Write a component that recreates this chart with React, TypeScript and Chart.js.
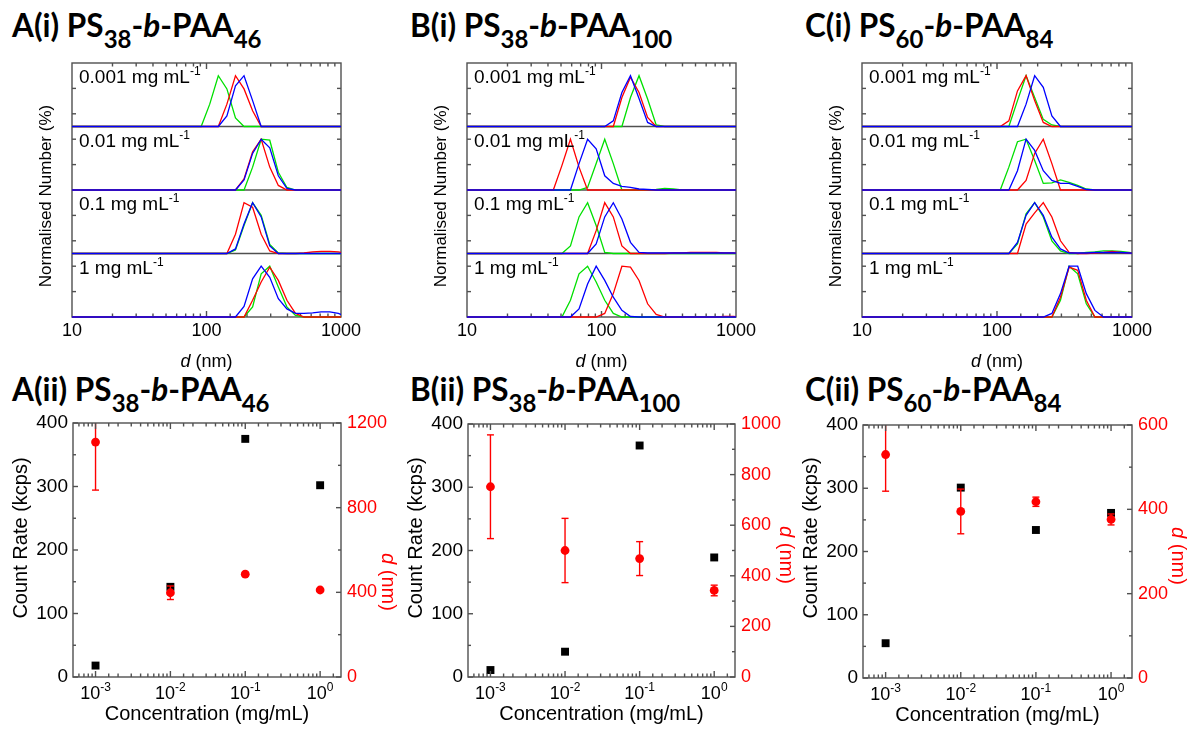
import React, { useEffect, useRef } from 'react';
import { Chart, registerables } from 'chart.js';

Chart.register(...registerables);

const SANS = '"Liberation Sans", Arial, Helvetica, sans-serif';
const TITLE_FONT = 'Lato, "Open Sans", sans-serif';
const FRAME = '#505050';
const RED = '#ff0000';
const GREEN = '#00e000';
const BLUE = '#0000ff';

// Zetasizer size classes (nm) used by the number distributions
const sizeClasses = [8.721, 10.1, 11.7, 13.54, 15.69, 18.17, 21.04, 24.36, 28.21, 32.67, 37.84, 43.82, 50.75, 58.77, 68.06, 78.82, 91.28, 105.7, 122.4, 141.8, 164.2, 190.1, 220.2, 255.0, 295.3, 342.0, 396.1, 458.7, 531.2, 615.1, 712.4, 825.0, 955.4, 1106];

// concentrations of the four stacked distributions, top to bottom (mg mL-1)
const concLabels = ['0.001', '0.01', '0.1', '1'];

type Dist = { from: number; values: number[] };

// Normalised number distributions (% of the largest class); each list starts at size class `from`
// PS38-b-PAA46
const psA_red: Dist[] = [
  { from: 122.4, values: [0, 44, 100, 74, 31, 0] },
  { from: 164.2, values: [0, 22, 75, 100, 45, 9, 0] },
  { from: 141.8, values: [0, 38, 100, 91, 38, 5, 0, 0, 0, 1, 3, 4, 4, 3] },
  { from: 190.1, values: [0, 33, 69, 98, 72, 33, 7, 0] },
];
const psA_green: Dist[] = [
  { from: 91.28, values: [0, 44, 100, 74, 17, 0] },
  { from: 190.1, values: [0, 45, 100, 98, 35, 5, 0] },
  { from: 141.8, values: [0, 7, 55, 100, 75, 18, 1, 0] },
  { from: 190.1, values: [0, 20, 85, 100, 59, 20, 3, 0] },
];
const psA_blue: Dist[] = [
  { from: 122.4, values: [0, 21, 80, 100, 51, 0] },
  { from: 164.2, values: [0, 20, 72, 100, 83, 28, 3, 0] },
  { from: 141.8, values: [0, 9, 58, 100, 72, 15, 0] },
  { from: 164.2, values: [0, 21, 75, 100, 78, 36, 16, 7, 7, 8, 10, 10, 7] },
];

// PS38-b-PAA100
const psB_red: Dist[] = [
  { from: 122.4, values: [0, 57, 97, 67, 18, 0] },
  { from: 43.82, values: [0, 48, 100, 45, 0] },
  { from: 78.82, values: [0, 45, 100, 72, 15, 0, 0, 0, 0, 0, 1, 1, 2, 2, 2, 2, 1, 1] },
  { from: 91.28, values: [0, 7, 46, 100, 98, 72, 26, 5, 0, 0, 0, 0, 0, 0, 0, 1, 1] },
];
const psB_green: Dist[] = [
  { from: 141.8, values: [0, 57, 100, 54, 3, 0] },
  { from: 68.06, values: [0, 5, 52, 100, 52, 0, 0, 0, 0, 1, 3, 2, 0] },
  { from: 50.75, values: [0, 15, 72, 100, 55, 2, 0] },
  { from: 50.75, values: [0, 33, 85, 100, 69, 33, 7, 0] },
];
const psB_blue: Dist[] = [
  { from: 105.7, values: [0, 11, 67, 100, 55, 8, 0] },
  { from: 58.77, values: [0, 52, 100, 81, 28, 13, 7, 5, 2, 1, 0] },
  { from: 78.82, values: [0, 19, 72, 100, 68, 22, 2, 1, 1, 1, 1, 1, 1, 1, 1, 1, 1, 1] },
  { from: 58.77, values: [0, 16, 65, 100, 72, 39, 13, 1, 0] },
];

// PS60-b-PAA84
const psC_red: Dist[] = [
  { from: 105.7, values: [0, 11, 70, 100, 51, 8, 0] },
  { from: 141.8, values: [0, 19, 72, 100, 52, 0] },
  { from: 141.8, values: [0, 58, 80, 100, 72, 25, 2, 0, 0, 1, 2, 4, 2, 1] },
  { from: 255.0, values: [0, 39, 98, 92, 33, 0] },
];
const psC_green: Dist[] = [
  { from: 122.4, values: [0, 51, 100, 57, 14, 3, 0] },
  { from: 105.7, values: [0, 45, 95, 100, 58, 13, 14, 20, 15, 9, 2, 0] },
  { from: 122.4, values: [0, 19, 78, 100, 72, 25, 5, 0, 0, 2, 3, 5, 5, 4, 2] },
  { from: 255.0, values: [0, 33, 100, 85, 26, 0] },
];
const psC_blue: Dist[] = [
  { from: 141.8, values: [0, 44, 100, 77, 21, 0] },
  { from: 122.4, values: [0, 38, 100, 78, 38, 19, 13, 13, 7, 1, 0] },
  { from: 122.4, values: [0, 22, 75, 100, 75, 32, 9, 1, 1, 1, 2, 2, 2, 2, 1] },
  { from: 220.2, values: [0, 7, 46, 100, 100, 46, 13, 0] },
];

const sizeRed = [psA_red, psB_red, psC_red];
const sizeGreen = [psA_green, psB_green, psC_green];
const sizeBlue = [psA_blue, psB_blue, psC_blue];

// y tick marks of each stacked sub-plot (top to bottom)
const subTickMarks = [[25, 75], [50, 100], [25, 75], [50, 100]];

// Count rate and particle size against concentration
const concentration = [0.001, 0.01, 0.1, 1];
const countA = [18, 142, 375, 302];
const countB = [11, 40, 366, 189];
const countC = [55, 301, 234, 261];
const sizeA = [1110, 398, 486, 411];
const sizeB = [752, 500, 468, 342];
const sizeC = [530, 395, 418, 376];
const sizeErrA = [227, 32, 8, 6];
const sizeErrB = [205, 127, 67, 21];
const sizeErrC = [87, 53, 11, 13];
const countRates = [countA, countB, countC];
const sizes = [sizeA, sizeB, sizeC];
const sizeErrs = [sizeErrA, sizeErrB, sizeErrC];
const sizeAxisMax = [1200, 1000, 600];
const sizeAxisStep = [400, 200, 200];
const sizeAxisMinor = [200, 100, 100];

// titles
const panelLetters = ['A', 'B', 'C'];
const psBlock = ['38', '38', '60'];
const paaBlock = ['46', '100', '84'];

// layout of the panels on the page
const titleX = [12, 410, 805];
const topBoxes = [
  { x: 0, w: 395, left: 72, right: 341 },
  { x: 395, w: 395, left: 467, right: 736 },
  { x: 790, w: 399, left: 862, right: 1132 },
];
const TOP_Y = 45;
const TOP_H = 335;
const TOP_PLOT_T = 63;
const TOP_PLOT_B = 317;

const botBoxes = [
  { x: 0, w: 400, left: 73, right: 341, top: 423, bottom: 677, rTitle: 47, rTitleY: 582 },
  { x: 400, w: 395, left: 468, right: 735, top: 424, bottom: 677, rTitle: 51, rTitleY: 555 },
  { x: 795, w: 394, left: 863, right: 1132, top: 425, bottom: 678, rTitle: 46, rTitleY: 556 },
];
const BOT_Y = 396;
const BOT_H = 335;
const SIDE_AXIS_W = 55;

const subIds = ['c0', 'c1', 'c2', 'c3'];

function isDecade(v: number) {
  const e = Math.log10(v);
  return Math.abs(e - Math.round(e)) < 1e-6;
}

function toSeries(d: Dist) {
  const start = sizeClasses.indexOf(d.from);
  return sizeClasses.map((s, i) => ({
    x: s,
    y: i >= start && i < start + d.values.length ? d.values[i - start] : 0,
  }));
}

function seg(ctx: CanvasRenderingContext2D, x1: number, y1: number, x2: number, y2: number) {
  ctx.beginPath();
  ctx.moveTo(x1, y1);
  ctx.lineTo(x2, y2);
  ctx.stroke();
}

type Run = { text: string; font: string; dy?: number };

function drawRuns(ctx: CanvasRenderingContext2D, runs: Run[], x: number, y: number, align: 'left' | 'center') {
  ctx.textAlign = 'left';
  let total = 0;
  const widths = runs.map((r) => {
    ctx.font = r.font;
    const w = ctx.measureText(r.text).width;
    total += w;
    return w;
  });
  let cx = align === 'center' ? x - total / 2 : x;
  runs.forEach((r, k) => {
    ctx.font = r.font;
    ctx.fillText(r.text, cx, y + (r.dy || 0));
    cx += widths[k];
  });
}

function drawLogXTicks(ctx: CanvasRenderingContext2D, chart: any) {
  const a = chart.chartArea;
  const xs = chart.scales.x;
  xs.ticks.forEach((t: any) => {
    const x = xs.getPixelForValue(t.value);
    if (x < a.left + 1 || x > a.right - 1) return;
    const len = isDecade(t.value) ? 6 : 3.5;
    seg(ctx, x, a.bottom, x, a.bottom - len);
    seg(ctx, x, a.top, x, a.top + len);
  });
}

function sizePlugin() {
  return {
    id: 'sizeFrame',
    beforeDatasetsDraw(chart: any) {
      const { ctx, chartArea: a } = chart;
      ctx.save();
      ctx.strokeStyle = FRAME;
      ctx.lineWidth = 1.4;
      subIds.forEach((id) => {
        const s = chart.scales[id];
        if (s.bottom < a.bottom - 1) seg(ctx, a.left, s.bottom, a.right, s.bottom);
        s.ticks.forEach((t: any) => {
          const y = s.getPixelForValue(t.value);
          seg(ctx, a.left, y, a.left + 4, y);
          seg(ctx, a.right - 4, y, a.right, y);
        });
      });
      drawLogXTicks(ctx, chart);
      ctx.strokeRect(a.left, a.top, a.right - a.left, a.bottom - a.top);
      ctx.restore();
    },
    afterDraw(chart: any) {
      const { ctx, chartArea: a } = chart;
      ctx.save();
      ctx.fillStyle = '#000';
      ctx.textBaseline = 'alphabetic';
      subIds.forEach((id, i) => {
        const s = chart.scales[id];
        drawRuns(ctx, [
          { text: concLabels[i] + ' mg mL', font: `19px ${SANS}` },
          { text: '-1', font: `12px ${SANS}`, dy: -8 },
        ], a.left + 7, s.top + 20, 'left');
      });
      // x-axis title
      drawRuns(ctx, [
        { text: 'd', font: `italic 18px ${SANS}` },
        { text: ' (nm)', font: `18px ${SANS}` },
      ], (a.left + a.right) / 2, a.bottom + 50, 'center');
      // y-axis title
      ctx.translate(a.left - 26, (a.top + a.bottom) / 2 + 6);
      ctx.rotate(-Math.PI / 2);
      ctx.textBaseline = 'middle';
      drawRuns(ctx, [{ text: 'Normalised Number (%)', font: `17px ${SANS}` }], 0, 0, 'center');
      ctx.restore();
    },
  };
}

function SizeChart({ col }: { col: number }) {
  const ref = useRef<HTMLCanvasElement>(null);
  const g = topBoxes[col];
  useEffect(() => {
    const scales: any = {
      x: {
        type: 'logarithmic',
        position: 'bottom',
        min: 10,
        max: 1000,
        grid: { display: false, drawTicks: false },
        border: { display: false },
        ticks: {
          autoSkip: false,
          maxRotation: 0,
          padding: 3,
          color: '#000',
          font: { family: SANS, size: 18 },
          callback: (v: any) => (isDecade(Number(v)) ? String(Math.round(Number(v))) : ''),
        },
        afterFit: (s: any) => {
          s.height = TOP_Y + TOP_H - TOP_PLOT_B;
        },
      },
    };
    // stacked sub-plots; later-defined axes are placed higher in the stack
    [...subIds].reverse().forEach((id) => {
      const i = subIds.indexOf(id);
      scales[id] = {
        type: 'linear',
        position: 'left',
        stack: 'conc',
        stackWeight: 1,
        offset: false,
        min: 0,
        max: 125,
        grid: { display: false, drawTicks: false },
        border: { display: false },
        ticks: { display: false },
        afterBuildTicks: (s: any) => {
          s.ticks = subTickMarks[i].map((v) => ({ value: v }));
        },
        afterFit: (s: any) => {
          s.width = 0;
        },
      };
    });
    const datasets: any[] = [];
    const groups: Array<[string, Dist[]]> = [
      [BLUE, sizeBlue[col]],
      [RED, sizeRed[col]],
      [GREEN, sizeGreen[col]],
    ];
    groups.forEach(([color, list]) => {
      list.forEach((d, i) => {
        datasets.push({
          data: toSeries(d),
          xAxisID: 'x',
          yAxisID: subIds[i],
          borderColor: color,
          borderWidth: 1.3,
          pointRadius: 0,
          fill: false,
          tension: 0,
          clip: { left: 0, right: 0, top: 2, bottom: 2 },
        });
      });
    });
    const chart = new Chart(ref.current as HTMLCanvasElement, {
      type: 'line',
      data: { datasets },
      options: {
        animation: false,
        responsive: false,
        devicePixelRatio: 1,
        events: [],
        layout: {
          padding: { left: g.left - g.x, right: g.x + g.w - g.right, top: TOP_PLOT_T - TOP_Y, bottom: 0 },
        },
        plugins: { legend: { display: false }, tooltip: { enabled: false } },
        scales,
      },
      plugins: [sizePlugin()],
    } as any);
    return () => chart.destroy();
  }, [col]);
  return (
    <canvas
      ref={ref}
      width={g.w}
      height={TOP_H}
      style={{ position: 'absolute', left: g.x, top: TOP_Y, width: g.w, height: TOP_H }}
    />
  );
}

function countPlugin(col: number) {
  const g = botBoxes[col];
  return {
    id: 'countFrame',
    afterDatasetsDraw(chart: any) {
      const { ctx, chartArea: a } = chart;
      const xs = chart.scales.x;
      const yl = chart.scales.y;
      const yr = chart.scales.y2;
      ctx.save();
      // error bars of the particle size
      ctx.beginPath();
      ctx.rect(a.left, a.top, a.right - a.left, a.bottom - a.top);
      ctx.clip();
      ctx.strokeStyle = RED;
      ctx.lineWidth = 1.4;
      concentration.forEach((c, i) => {
        const x = xs.getPixelForValue(c);
        const y1 = yr.getPixelForValue(sizes[col][i] + sizeErrs[col][i]);
        const y2 = yr.getPixelForValue(sizes[col][i] - sizeErrs[col][i]);
        seg(ctx, x, y1, x, y2);
        seg(ctx, x - 3.5, y1, x + 3.5, y1);
        seg(ctx, x - 3.5, y2, x + 3.5, y2);
      });
      ctx.restore();

      ctx.save();
      ctx.strokeStyle = FRAME;
      ctx.lineWidth = 1.4;
      drawLogXTicks(ctx, chart);
      for (let v = 0; v <= 400 + 1e-9; v += 50) {
        const y = yl.getPixelForValue(v);
        seg(ctx, a.left, y, a.left + (v % 100 === 0 ? 5 : 3), y);
      }
      for (let v = 0; v <= sizeAxisMax[col] + 1e-9; v += sizeAxisMinor[col]) {
        const y = yr.getPixelForValue(v);
        seg(ctx, a.right, y, a.right - (v % sizeAxisStep[col] === 0 ? 5 : 3), y);
      }
      ctx.strokeRect(a.left, a.top, a.right - a.left, a.bottom - a.top);
      ctx.restore();
    },
    afterDraw(chart: any) {
      const { ctx, chartArea: a } = chart;
      const xs = chart.scales.x;
      ctx.save();
      ctx.fillStyle = '#000';
      ctx.textBaseline = 'alphabetic';
      xs.ticks.forEach((t: any) => {
        if (!isDecade(t.value)) return;
        const x = xs.getPixelForValue(t.value);
        if (x < a.left || x > a.right) return;
        drawRuns(ctx, [
          { text: '10', font: `18px ${SANS}` },
          { text: String(Math.round(Math.log10(t.value))), font: `12px ${SANS}`, dy: -8 },
        ], x, a.bottom + 22, 'center');
      });
      drawRuns(ctx, [{ text: 'Concentration (mg/mL)', font: `20px ${SANS}` }], (a.left + a.right) / 2, a.bottom + 43, 'center');
      ctx.textBaseline = 'middle';
      ctx.save();
      ctx.translate(a.left - 52, 538 - BOT_Y);
      ctx.rotate(-Math.PI / 2);
      drawRuns(ctx, [{ text: 'Count Rate (kcps)', font: `20px ${SANS}` }], 0, 0, 'center');
      ctx.restore();
      ctx.save();
      ctx.fillStyle = RED;
      ctx.translate(a.right + g.rTitle, g.rTitleY - BOT_Y);
      ctx.rotate(Math.PI / 2);
      drawRuns(ctx, [
        { text: 'd', font: `italic 20px ${SANS}` },
        { text: ' (nm)', font: `20px ${SANS}` },
      ], 0, 0, 'center');
      ctx.restore();
      ctx.restore();
    },
  };
}

function CountChart({ col }: { col: number }) {
  const ref = useRef<HTMLCanvasElement>(null);
  const g = botBoxes[col];
  useEffect(() => {
    const chart = new Chart(ref.current as HTMLCanvasElement, {
      type: 'scatter',
      data: {
        datasets: [
          {
            label: 'd',
            data: concentration.map((c, i) => ({ x: c, y: sizes[col][i] })),
            yAxisID: 'y2',
            pointStyle: 'circle',
            pointRadius: 4.4,
            borderWidth: 0,
            backgroundColor: RED,
            borderColor: RED,
          },
          {
            label: 'Count Rate',
            data: concentration.map((c, i) => ({ x: c, y: countRates[col][i] })),
            yAxisID: 'y',
            pointStyle: 'rect',
            pointRadius: 5.6,
            borderWidth: 0,
            backgroundColor: '#000',
            borderColor: '#000',
          },
        ],
      },
      options: {
        animation: false,
        responsive: false,
        devicePixelRatio: 1,
        events: [],
        layout: {
          padding: {
            left: g.left - g.x - SIDE_AXIS_W,
            right: g.x + g.w - g.right - SIDE_AXIS_W,
            top: g.top - BOT_Y,
            bottom: 0,
          },
        },
        plugins: { legend: { display: false }, tooltip: { enabled: false } },
        scales: {
          x: {
            type: 'logarithmic',
            min: 5e-4,
            max: 1.9,
            grid: { display: false, drawTicks: false },
            border: { display: false },
            ticks: { display: false },
            afterFit: (s: any) => {
              s.height = BOT_Y + BOT_H - g.bottom;
            },
          },
          y: {
            position: 'left',
            min: 0,
            max: 400,
            grid: { display: false, drawTicks: false },
            border: { display: false },
            ticks: {
              stepSize: 100,
              color: '#000',
              padding: 5,
              font: { family: SANS, size: 19 },
              callback: (v: any) => String(v),
            },
            afterFit: (s: any) => {
              s.width = SIDE_AXIS_W;
            },
          },
          y2: {
            position: 'right',
            min: 0,
            max: sizeAxisMax[col],
            grid: { display: false, drawTicks: false },
            border: { display: false },
            ticks: {
              stepSize: sizeAxisStep[col],
              color: RED,
              padding: 6,
              font: { family: SANS, size: 18 },
              callback: (v: any) => String(v),
            },
            afterFit: (s: any) => {
              s.width = SIDE_AXIS_W;
            },
          },
        },
      },
      plugins: [countPlugin(col)],
    } as any);
    return () => chart.destroy();
  }, [col]);
  return (
    <canvas
      ref={ref}
      width={g.w}
      height={BOT_H}
      style={{ position: 'absolute', left: g.x, top: BOT_Y, width: g.w, height: BOT_H }}
    />
  );
}

const subStyle: React.CSSProperties = { fontSize: 24, verticalAlign: '-11px', lineHeight: 0 };

function PanelTitle({ col, part, top }: { col: number; part: string; top: number }) {
  return (
    <div
      style={{
        position: 'absolute',
        left: titleX[col],
        top,
        fontFamily: TITLE_FONT,
        fontWeight: 700,
        fontSize: 31.5,
        lineHeight: '36px',
        whiteSpace: 'nowrap',
        color: '#000',
      }}
    >
      {panelLetters[col]}({part}) PS<span style={subStyle}>{psBlock[col]}</span>-<i>b</i>-PAA
      <span style={subStyle}>{paaBlock[col]}</span>
    </div>
  );
}

export default function App() {
  return (
    <div
      style={{
        position: 'absolute',
        left: 0,
        top: 0,
        width: 1189,
        height: 731,
        background: '#fff',
        overflow: 'hidden',
      }}
    >
      {[0, 1, 2].map((c) => (
        <PanelTitle key={'ti' + c} col={c} part="i" top={7} />
      ))}
      {[0, 1, 2].map((c) => (
        <PanelTitle key={'tii' + c} col={c} part="ii" top={371} />
      ))}
      {[0, 1, 2].map((c) => (
        <SizeChart key={'s' + c} col={c} />
      ))}
      {[0, 1, 2].map((c) => (
        <CountChart key={'c' + c} col={c} />
      ))}
    </div>
  );
}
